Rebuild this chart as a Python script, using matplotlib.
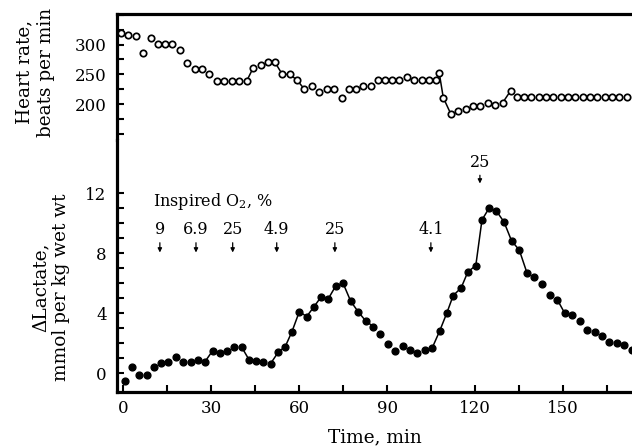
import matplotlib
matplotlib.use("Agg")
import matplotlib.pyplot as plt
from matplotlib.ticker import MultipleLocator, FixedLocator

# ---------------- data ----------------
hr_time = [-0.65, 1.84, 4.36, 6.95, 9.47, 11.85, 14.34, 16.83, 19.35, 21.93,
           24.46, 26.94, 29.43, 31.95, 34.43, 37.06, 39.54, 42.17, 44.41, 46.93,
           49.32, 51.81, 54.29, 56.81, 59.3, 61.78, 64.4, 66.79, 69.41, 71.9,
           74.52, 76.91, 79.39, 81.88, 84.4, 86.78, 89.27, 91.76, 94.14, 96.76,
           99.25, 101.77, 104.25, 106.64, 107.77, 109.13, 111.75, 114.24, 116.76, 119.35,
           121.63, 124.25, 126.74, 129.36, 132.08, 134.13, 136.6, 139.1, 141.6, 144.1,
           146.6, 149.1, 151.6, 154.1, 156.6, 159.1, 161.6, 164.1, 166.6, 169.1,
           171.6]
hr_bpm = [319.8, 315.5, 314.8, 285.2, 310.4, 300.3, 300.3, 300.3, 290.3, 269.4,
          258.8, 258.8, 249.9, 238.7, 238.7, 238.7, 238.7, 238.7, 261.0, 265.5,
          270.0, 270.0, 249.9, 249.9, 240.3, 225.2, 230.3, 220.7, 225.2, 224.7,
          210.6, 225.2, 225.2, 230.8, 230.8, 240.3, 240.3, 240.3, 240.3, 245.9,
          240.3, 240.3, 240.3, 240.3, 251.6, 210.6, 182.7, 187.7, 191.6, 197.0,
          197.0, 201.8, 197.8, 202.2, 222.4, 212.3, 212.3, 212.3, 212.3, 212.3,
          212.3, 212.3, 212.3, 212.3, 212.3, 212.3, 212.3, 212.3, 212.3, 212.3,
          212.3]
# index ranges (inclusive) joined by a line
hr_links = [(17, 18), (21, 25), (43, 46), (53, 54)]

lac_time = [0.7, 3.2, 5.6, 8.1, 10.6, 12.9, 15.5, 18.1, 20.6, 23.1,
            25.5, 28.0, 30.6, 33.1, 35.3, 38.0, 40.5, 43.0, 45.3, 47.8,
            50.3, 52.9, 55.3, 57.6, 60.1, 62.6, 65.1, 67.6, 70.0, 72.5,
            75.0, 77.6, 80.1, 82.7, 85.3, 87.7, 90.2, 92.8, 95.3, 97.8,
            100.2, 102.8, 105.4, 107.9, 110.3, 112.5, 115.2, 117.5, 120.2, 122.3,
            124.7, 127.2, 129.8, 132.4, 135.0, 137.6, 140.1, 142.9, 145.5, 148.0,
            150.5, 153.1, 155.7, 158.2, 160.7, 163.2, 165.7, 168.3, 170.8, 173.3]
lac_val = [-0.51, 0.40, -0.11, -0.11, 0.40, 0.71, 0.78, 1.07, 0.78, 0.78,
           0.89, 0.78, 1.51, 1.38, 1.51, 1.78, 1.73, 0.89, 0.82, 0.76,
           0.64, 1.40, 1.78, 2.78, 4.11, 3.78, 4.44, 5.11, 4.98, 5.82,
           6.00, 4.80, 4.11, 3.49, 3.11, 2.62, 1.93, 1.51, 1.82, 1.56,
           1.38, 1.56, 1.71, 2.82, 4.00, 5.18, 5.69, 6.76, 7.18, 10.22,
           11.00, 10.82, 10.09, 8.82, 8.22, 6.71, 6.44, 5.96, 5.24, 4.89,
           4.00, 3.89, 3.47, 2.89, 2.73, 2.51, 2.11, 2.04, 1.89, 1.56]
lac_links = [(11, 12), (16, 17), (20, 34), (42, 55), (59, 60)]

o2_labels = ["9", "6.9", "25", "4.9", "25", "4.1", "25"]
o2_time = [12.6, 24.9, 37.4, 52.4, 72.2, 104.9, 121.6]

x_ticks_major = [0, 30, 60, 90, 120, 150]
hr_ticks_major = [200, 250, 300]
lac_ticks_major = [0, 4, 8, 12]

# ---------------- style ----------------
plt.rcParams["font.family"] = ["DejaVu Serif"]
plt.rcParams["mathtext.fontset"] = "dejavuserif"

W_PX, H_PX = 632, 448
fig = plt.figure(figsize=(W_PX / 100, H_PX / 100), dpi=100)
left = 117 / W_PX
ax_hr = fig.add_axes([left, (H_PX - 140) / H_PX, 1 - left, (140 - 14) / H_PX])
ax_la = fig.add_axes([left, (H_PX - 392) / H_PX, 1 - left, (392 - 140) / H_PX])

XLIM = (-2.0, 173.4)
SPINE_W = 2.3
TICK_FS = 12
LABEL_FS = 13.3

for ax in (ax_hr, ax_la):
    ax.set_xlim(*XLIM)
    ax.spines["right"].set_visible(False)
    for s in ax.spines.values():
        s.set_linewidth(SPINE_W)
    ax.tick_params(which="both", direction="in", width=1.5, length=5,
                   labelsize=TICK_FS, pad=7.5)

# heart rate panel
ax_hr.spines["bottom"].set_visible(False)
ax_hr.set_ylim(139.5, 351.3)
ax_hr.yaxis.set_major_locator(FixedLocator(hr_ticks_major))
ax_hr.yaxis.set_minor_locator(MultipleLocator(25))
ax_hr.tick_params(axis="x", which="both", bottom=False, labelbottom=False)
for a, b in hr_links:
    ax_hr.plot(hr_time[a:b + 1], hr_bpm[a:b + 1], "-", color="black", lw=1.1, zorder=2)
ax_hr.plot(hr_time, hr_bpm, "o", ms=4.6, mfc="white", mec="black", mew=1.25,
           ls="none", zorder=3, clip_on=False)
ax_hr.set_ylabel("Heart rate,\nbeats per min", fontsize=LABEL_FS,
                 linespacing=1.25, va="center")
ax_hr.yaxis.set_label_coords(-0.159, 0.54)

# lactate panel
ax_la.spines["top"].set_visible(False)
ax_la.set_ylim(-1.25, 15.55)
ax_la.yaxis.set_major_locator(FixedLocator(lac_ticks_major))
ax_la.yaxis.set_minor_locator(FixedLocator(list(range(0, 13))))
ax_la.xaxis.set_major_locator(FixedLocator(x_ticks_major))
ax_la.xaxis.set_minor_locator(FixedLocator([15, 45, 75, 105, 135, 165]))
ax_la.tick_params(axis="x", which="both", pad=6)
for a, b in lac_links:
    ax_la.plot(lac_time[a:b + 1], lac_val[a:b + 1], "-", color="black", lw=1.1, zorder=2)
ax_la.plot(lac_time, lac_val, "o", ms=4.9, color="black", ls="none", zorder=3)
ax_la.set_ylabel("\u0394Lactate,\nmmol per kg wet wt", fontsize=LABEL_FS,
                 linespacing=1.15, va="center")
ax_la.yaxis.set_label_coords(-0.128, 0.415)
ax_la.set_xlabel("Time, min", fontsize=LABEL_FS, labelpad=8)

# annotations
ax_la.text(10.4, 11.44, "Inspired O$_2$, %", fontsize=11.5, ha="left", va="center")
for i, (lab, t) in enumerate(zip(o2_labels, o2_time)):
    if i == len(o2_labels) - 1:
        y_lab, y_tail, y_tip = 14.03, 13.2, 12.65
    else:
        y_lab, y_tail, y_tip = 9.55, 8.7, 8.05
    ax_la.text(t, y_lab, lab, fontsize=11.5, ha="center", va="center")
    ax_la.annotate("", xy=(t, y_tip), xytext=(t, y_tail),
                   arrowprops=dict(arrowstyle="-|>", color="black", lw=0.9,
                                   mutation_scale=6, shrinkA=0, shrinkB=0))

fig.savefig("out.png", dpi=100)
